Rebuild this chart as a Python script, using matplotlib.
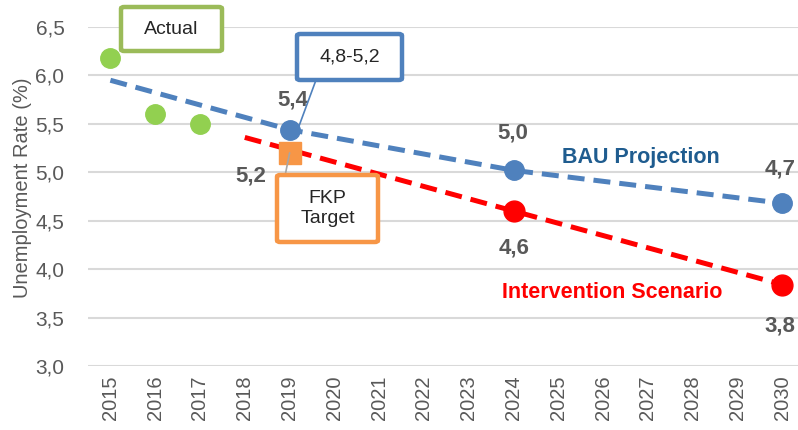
import matplotlib
matplotlib.use("Agg")
import matplotlib.pyplot as plt
from matplotlib.patches import FancyBboxPatch

plt.rcParams['font.family'] = ['Liberation Sans', 'DejaVu Sans']

years = [str(y) for y in range(2015, 2031)]
actual_years = ["2015", "2016", "2017"]
actual_vals = [6.18, 5.60, 5.50]
bau_years = ["2015", "2019", "2024", "2030"]
bau_vals = [5.95, 5.44, 5.02, 4.68]
bau_marker_years = ["2019", "2024", "2030"]
bau_marker_vals = [5.44, 5.02, 4.68]
bau_labels = ["5,4", "5,0", "4,7"]
int_years = ["2018", "2024", "2030"]
int_vals = [5.36, 4.60, 3.84]
int_marker_years = ["2024", "2030"]
int_marker_vals = [4.60, 3.84]
int_labels = ["4,6", "3,8"]
target_year = ["2019"]
target_val = [5.20]
target_label = "5,2"
yticks = [3.0, 3.5, 4.0, 4.5, 5.0, 5.5, 6.0, 6.5]
ytick_labels = ["3,0", "3,5", "4,0", "4,5", "5,0", "5,5", "6,0", "6,5"]

W, H = 798, 430
fig = plt.figure(figsize=(W / 100, H / 100), dpi=100)
ax = fig.add_axes([88 / W, 1 - 366 / H, 710 / W, 339 / H])
idx = {y: i for i, y in enumerate(years)}
xi = lambda ys: [idx[y] for y in ys]

grid_c = '#D9D9D9'
for v in yticks:
    ax.axhline(v, color=grid_c, lw=1.5, zorder=0)
for s in ax.spines.values():
    s.set_visible(False)

blue = '#4F81BD'
red = '#FF0000'
green = '#92D050'
orange = '#F79646'
gray = '#595959'

ax.plot(xi(bau_years), bau_vals, color=blue, lw=3.6, dashes=(3.4, 1.8), zorder=3)
ax.plot(xi(bau_marker_years), bau_marker_vals, 'o', color=blue, ms=14, zorder=4)
ax.plot(xi(int_years), int_vals, color=red, lw=3.6, dashes=(3.4, 1.8), zorder=3)
ax.plot(xi(int_marker_years), int_marker_vals, 'o', color=red, ms=15, zorder=4)
ax.plot(xi(actual_years), actual_vals, 'o', color=green, ms=14, zorder=4)
ax.plot(xi(target_year), target_val, 's', color=orange, ms=16, zorder=5)

ax.set_xlim(-0.5, -0.5 + 710 / 44.8)
ax.set_ylim(3.0, 6.5)
ax.set_xticks(range(len(years)))
ax.set_xticklabels(years, rotation=90, fontsize=14.5, color=gray)
ax.set_yticks(yticks)
ax.set_yticklabels(ytick_labels, fontsize=15, color=gray)
ax.tick_params(axis='both', length=0)
ax.tick_params(axis='x', pad=7)
ax.tick_params(axis='y', pad=17)
ax.set_ylabel("Unemployment Rate (%)", fontsize=14.5, color=gray, va='center')
ax.yaxis.set_label_coords((23 - 88) / 710, (366 - 188) / 339)

lab_kw = dict(fontsize=16, fontweight='bold', color=gray, ha='center', va='center',
              textcoords='offset pixels', clip_on=False, annotation_clip=False)
offs_bau = [(3, 30), (-1, 37), (-2, 34)]
for y, v, t, o in zip(bau_marker_years, bau_marker_vals, bau_labels, offs_bau):
    ax.annotate(t, (idx[y], v), xytext=o, **lab_kw)
offs_int = [(0, -37), (-3, -41)]
for y, v, t, o in zip(int_marker_years, int_marker_vals, int_labels, offs_int):
    ax.annotate(t, (idx[y], v), xytext=o, **lab_kw)
ax.annotate(target_label, (idx["2019"], 5.20), xytext=(-39, -23), **lab_kw)

ax.text(641, H - 158, "BAU Projection", transform=None, fontsize=15.5, fontweight='bold',
        color='#1F5C8F', ha='center', va='center')
ax.text(612, H - 292, "Intervention Scenario", transform=None, fontsize=15.5, fontweight='bold',
        color=red, ha='center', va='center')


def box(x0, y0, x1, y1, color, text):
    p = FancyBboxPatch((x0 / W, 1 - y1 / H), (x1 - x0) / W, (y1 - y0) / H,
                       boxstyle='round,pad=0,rounding_size=0.004', transform=fig.transFigure,
                       facecolor='white', edgecolor=color, lw=3.2, zorder=10)
    fig.patches.append(p)
    fig.text((x0 + x1) / 2 / W, 1 - (y0 + y1) / 2 / H, text, ha='center', va='center',
             fontsize=14, color='#262626', zorder=11, linespacing=1.25)


# connector lines
ax.annotate('', xy=(idx["2019"] + 0.18, 5.44), xycoords='data',
            xytext=(316, H - 80), textcoords='figure pixels',
            arrowprops=dict(arrowstyle='-', color=blue, lw=1.2, shrinkA=0, shrinkB=0),
            annotation_clip=False)
ax.annotate('', xy=(idx["2019"], 5.20), xycoords='data',
            xytext=(285, H - 176), textcoords='figure pixels',
            arrowprops=dict(arrowstyle='-', color='#A6A6A6', lw=1.2, shrinkA=0, shrinkB=0),
            annotation_clip=False, zorder=6)

box(121, 7, 222, 51, '#9BBB59', "Actual")
box(297, 34, 402, 80, blue, "4,8-5,2")
box(277, 175, 378, 242, orange, "FKP\nTarget")

fig.savefig("out.png", dpi=100)
